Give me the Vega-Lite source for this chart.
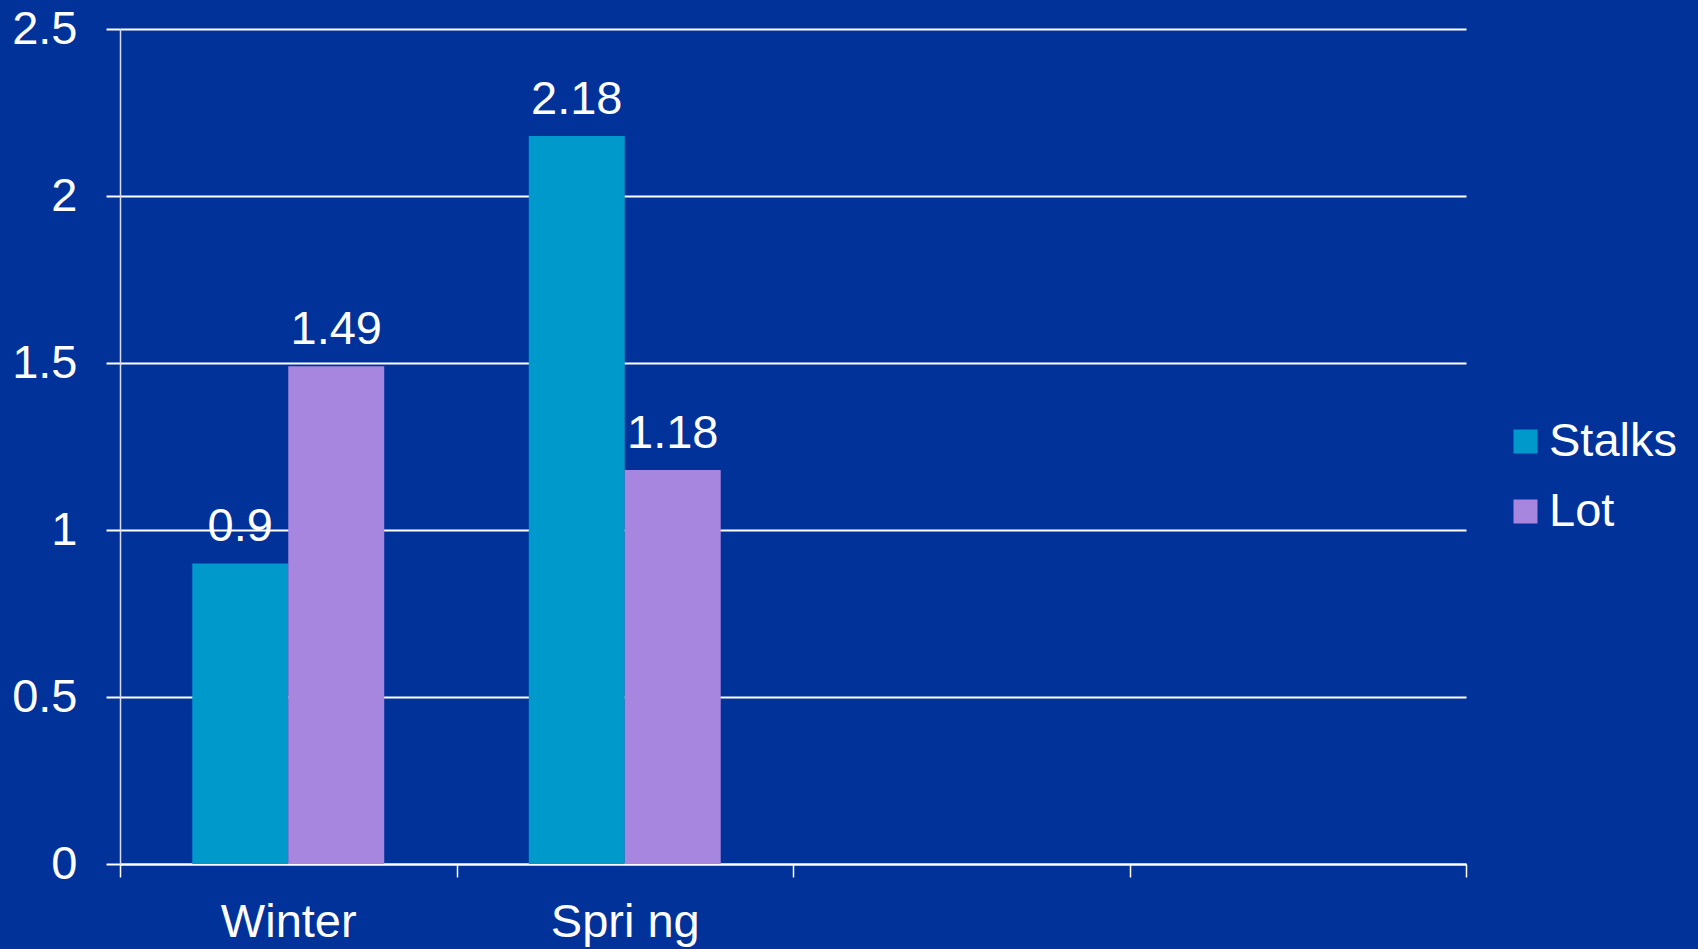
{
  "$schema": "https://vega.github.io/schema/vega-lite/v6.json",
  "autosize": {"type": "none"},
  "width": 1346,
  "height": 835,
  "padding": {"left": 120, "top": 29, "right": 232, "bottom": 85},
  "background": "#00329A",
  "config": {
    "font": "Liberation Sans",
    "view": {"stroke": null}
  },
  "data": {
    "values": [
      {"season": "Winter", "series": "Stalks", "value": 0.9},
      {"season": "Winter", "series": "Lot", "value": 1.49},
      {"season": "Spri ng", "series": "Stalks", "value": 2.18},
      {"season": "Spri ng", "series": "Lot", "value": 1.18}
    ]
  },
  "encoding": {
    "x": {
      "field": "season",
      "type": "nominal",
      "sort": null,
      "scale": {"domain": ["Winter", "Spri ng", " ", "  "], "paddingInner": 0, "paddingOuter": 0},
      "axis": {
        "title": null,
        "labelAngle": 0,
        "labelFontSize": 47,
        "labelColor": "#FFFFFF",
        "labelPadding": 22,
        "tickBand": "extent",
        "tickSize": 13,
        "tickColor": "#FFFFFF",
        "tickWidth": 1.5,
        "domainColor": "#FFFFFF",
        "domainWidth": 2,
        "grid": false
      }
    },
    "xOffset": {
      "field": "series",
      "type": "nominal",
      "sort": ["Stalks", "Lot"],
      "scale": {"domain": ["Stalks", "Lot"], "paddingInner": 0, "paddingOuter": 0.753}
    },
    "y": {
      "field": "value",
      "type": "quantitative",
      "scale": {"domain": [0, 2.5], "nice": false},
      "axis": {
        "title": null,
        "values": [0, 0.5, 1, 1.5, 2, 2.5],
        "format": ".1~f",
        "labelFontSize": 47,
        "labelColor": "#FFFFFF",
        "labelPadding": 29,
        "tickSize": 14,
        "tickColor": "#FFFFFF",
        "tickWidth": 2,
        "domainColor": "#D8DCE8",
        "domainWidth": 1.5,
        "grid": true,
        "gridColor": "#FFFFFF",
        "gridWidth": 2,
        "gridOpacity": 1
      }
    }
  },
  "layer": [
    {
      "mark": {"type": "bar"},
      "encoding": {
        "color": {
          "field": "series",
          "type": "nominal",
          "sort": ["Stalks", "Lot"],
          "scale": {"domain": ["Stalks", "Lot"], "range": ["#0099CC", "#A686DE"]},
          "legend": {
            "title": null,
            "orient": "none",
            "legendX": 1382,
            "legendY": 389,
            "symbolType": "square",
            "symbolSize": 576,
            "symbolStrokeWidth": 0,
            "symbolOpacity": 1,
            "labelFontSize": 47,
            "labelColor": "#FFFFFF",
            "labelOffset": 0,
            "rowPadding": 22,
            "labelLimit": 300
          }
        }
      }
    },
    {
      "mark": {"type": "text", "color": "#FFFFFF", "fontSize": 47, "baseline": "alphabetic", "dy": -22},
      "encoding": {
        "text": {"field": "value", "type": "quantitative"}
      }
    }
  ]
}
